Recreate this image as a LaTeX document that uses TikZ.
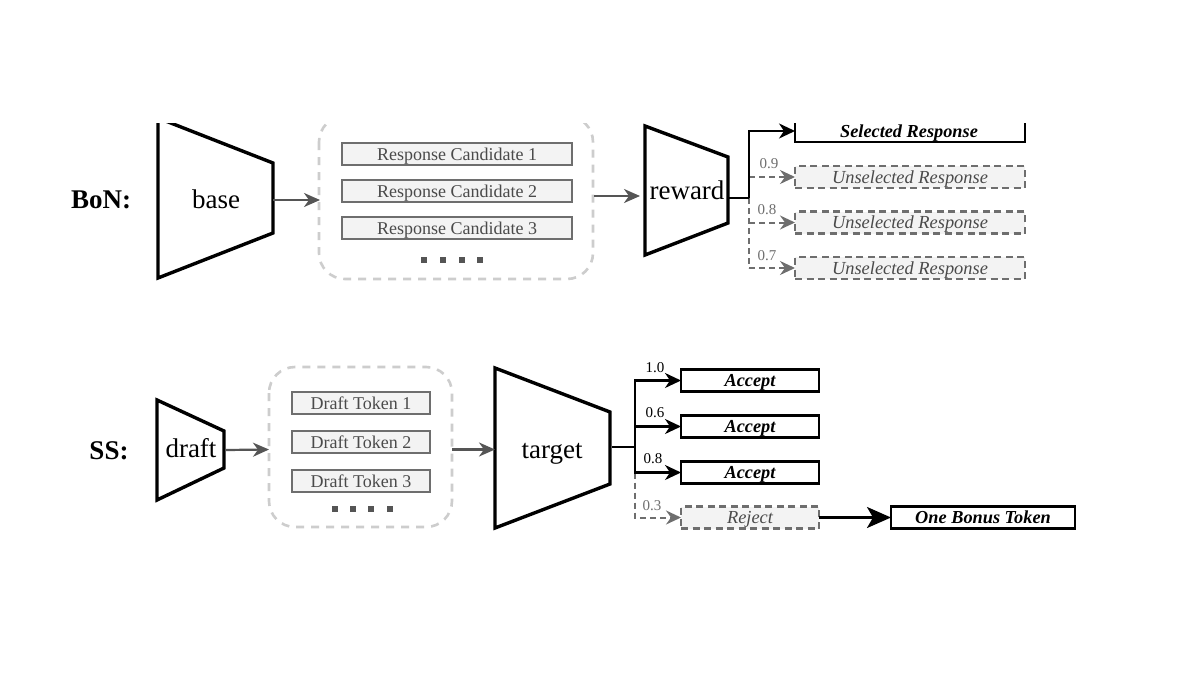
\documentclass[tikz,border=0pt]{standalone}
\usepackage{fontspec}
\setmainfont{Liberation Serif}
\usetikzlibrary{arrows.meta}
\definecolor{boxgray}{HTML}{F3F3F3}
\definecolor{midgray}{HTML}{6E6E6E}
\definecolor{textgray}{HTML}{4A4A4A}
\definecolor{contgray}{HTML}{CDCDCD}
\definecolor{arrgray}{HTML}{555555}
\tikzset{
  x=1pt,y=-1pt,
  every node/.style={inner sep=0pt,outer sep=0pt,font=\fontsize{18}{20}\selectfont},
  trap/.style={draw=black,line width=3.4pt,fill=white,miter limit=10},
  traplabel/.style={font=\fontsize{27}{30}\selectfont,text=black},
  cont/.style={draw=contgray,line width=2.6pt,rounded corners=26pt,dash pattern=on 8pt off 7pt},
  cand/.style={draw=midgray,line width=2.4pt,fill=boxgray,text=textgray,minimum height=22pt,text height=15pt,text depth=3pt,anchor=center},
  good/.style={draw=black,line width=2.4pt,fill=white,minimum height=22pt,text height=15pt,text depth=3pt,font=\fontsize{18.3}{20}\selectfont\bfseries\itshape},
  bad/.style={draw=midgray,line width=2.2pt,fill=boxgray,dash pattern=on 7pt off 4.5pt,minimum height=22pt,text height=15pt,text depth=3pt,text=textgray,font=\fontsize{18.4}{20}\selectfont\itshape},
  score/.style={font=\fontsize{15}{16}\selectfont,text=black},
  badscore/.style={font=\fontsize{15}{16}\selectfont,text=midgray},
  flow/.style={draw=arrgray,line width=2.2pt,-{Stealth[length=16pt,width=14pt,inset=5pt]}},
  solid line/.style={draw=black,line width=2.4pt},
  solid arrow/.style={draw=black,line width=2.4pt,-{Stealth[length=16pt,width=15pt,inset=5pt]}},
  dash line/.style={draw=midgray,line width=2pt,dash pattern=on 6pt off 4pt},
  dash arrow/.style={draw=midgray,line width=2pt,dash pattern=on 6pt off 4pt,-{Stealth[length=15pt,width=14pt,inset=5pt]}},
  big arrow/.style={draw=black,line width=2.4pt,-{Stealth[length=24pt,width=21pt,inset=6pt]}},
  head/.style={font=\fontsize{27}{30}\selectfont\bfseries},
  dotmark/.style={fill=arrgray,minimum size=5.5pt},
}
\begin{document}
\begin{tikzpicture}
\useasboundingbox (0,0) rectangle (1200,675);
\fill[white] (0,0) rectangle (1200,675);
\begin{scope}
\clip (0,123) rectangle (1200,675);
% ---- BoN
\node[head] (bon) at (101,199.5) {BoN:};
\draw[trap] (158,118) -- (273,163) -- (273,233) -- (158,278) -- cycle;
\node[traplabel] (base) at (216,199) {base};
\coordinate (baseR) at (273,200);
\draw[cont] (319,116) rectangle (593,279);
\coordinate (contAin) at (320,200);
\coordinate (contAout) at (594,196);
\node[cand,minimum width=230pt] (r1) at (457,154) {Response Candidate 1};
\node[cand,minimum width=230pt] (r2) at (457,191) {Response Candidate 2};
\node[cand,minimum width=230pt] (r3) at (457,228) {Response Candidate 3};
\foreach \i/\x in {a/424,b/443,c/462,d/480}{\node[dotmark] (bd\i) at (\x,260) {};}
\draw[trap] (645,126) -- (728,157) -- (728,223) -- (645,255) -- cycle;
\node[traplabel] (reward) at (687,190) {reward};
\coordinate (rewardL) at (640,196);
\coordinate (rewardR) at (728,198);
\coordinate (bJ) at (749,198);
\coordinate (bT) at (749,131);
\coordinate (bA) at (749,177);
\coordinate (bB) at (749,222.5);
\coordinate (bC) at (749,268);
\node[good,minimum width=230pt,minimum height=40pt,text height=0pt,text depth=0pt] (sel) at (910,122) {};
\node[font=\fontsize{18.3}{20}\selectfont\bfseries\itshape,text height=15pt,text depth=3pt] (selt) at (909,131) {Selected Response};
\node[bad,minimum width=230pt] (u1) at (910,177) {Unselected Response};
\node[bad,minimum width=230pt] (u2) at (910,222.5) {Unselected Response};
\node[bad,minimum width=230pt] (u3) at (910,268) {Unselected Response};
\draw[flow] (baseR) -- (contAin);
\draw[flow] (contAout) -- (rewardL);
\draw[dash line] (bJ) -- (bC);
\draw[dash arrow] (bA) -- (u1.west);
\draw[dash arrow] (bB) -- (u2.west);
\draw[dash arrow] (bC) -- (u3.west);
\draw[solid line] (rewardR) -- (bJ);
\draw[solid arrow] (bJ) -- (bT) -- (sel.west |- bT);
\node[score] (s0) at (769,118) {1.0};
\node[badscore] (s1) at (769,164) {0.9};
\node[badscore] (s2) at (767,210) {0.8};
\node[badscore] (s3) at (767,256) {0.7};
% ---- SS
\node[head] (ss) at (109,451) {SS:};
\draw[trap] (157,400) -- (224,431) -- (224,468) -- (157,500) -- cycle;
\node[traplabel] (draft) at (191,448) {draft};
\coordinate (draftR) at (226,450);
\draw[cont] (269,367) rectangle (452,527);
\coordinate (contBin) at (269,449.5);
\coordinate (contBout) at (452,449.5);
\node[cand,minimum width=138pt] (d1) at (361,403) {Draft Token 1};
\node[cand,minimum width=138pt] (d2) at (361,442) {Draft Token 2};
\node[cand,minimum width=138pt] (d3) at (361,481) {Draft Token 3};
\foreach \i/\x in {a/335,b/353,c/371,d/390}{\node[dotmark] (dd\i) at (\x,509) {};}
\draw[trap] (495,368) -- (610,412) -- (610,484) -- (495,528) -- cycle;
\node[traplabel] (target) at (552,453.5) {target};
\coordinate (targetL) at (495,449.5);
\coordinate (targetR) at (612,447);
\coordinate (sJ) at (635,447);
\coordinate (sT) at (635,380.5);
\coordinate (sM) at (635,426.5);
\coordinate (sB) at (635,472.5);
\coordinate (sR) at (635,517.5);
\node[good,minimum width=138pt] (a1) at (750,380.5) {Accept};
\node[good,minimum width=138pt] (a2) at (750,426.5) {Accept};
\node[good,minimum width=138pt] (a3) at (750,472.5) {Accept};
\node[bad,minimum width=138pt] (rej) at (750,517.5) {Reject};
\node[good,minimum width=184pt,line width=2.6pt] (bonus) at (983,517.5) {One Bonus Token};
\draw[flow] (draftR) -- (contBin);
\draw[flow] (contBout) -- (targetL);
\draw[dash arrow] (sB) -- (sR) -- (rej.west);
\draw[solid line] (targetR) -- (sJ);
\draw[solid arrow] (sJ) -- (sT) -- (a1.west);
\draw[solid arrow] (sM) -- (a2.west);
\draw[solid arrow] (sT) -- (sB) -- (a3.west);
\draw[big arrow] (rej.east) -- (bonus.west);
\node[score] (t1) at (655,368) {1.0};
\node[score] (t2) at (655,413) {0.6};
\node[score] (t3) at (653,459) {0.8};
\node[badscore] (t4) at (652,506) {0.3};
\end{scope}
\end{tikzpicture}
\end{document}
